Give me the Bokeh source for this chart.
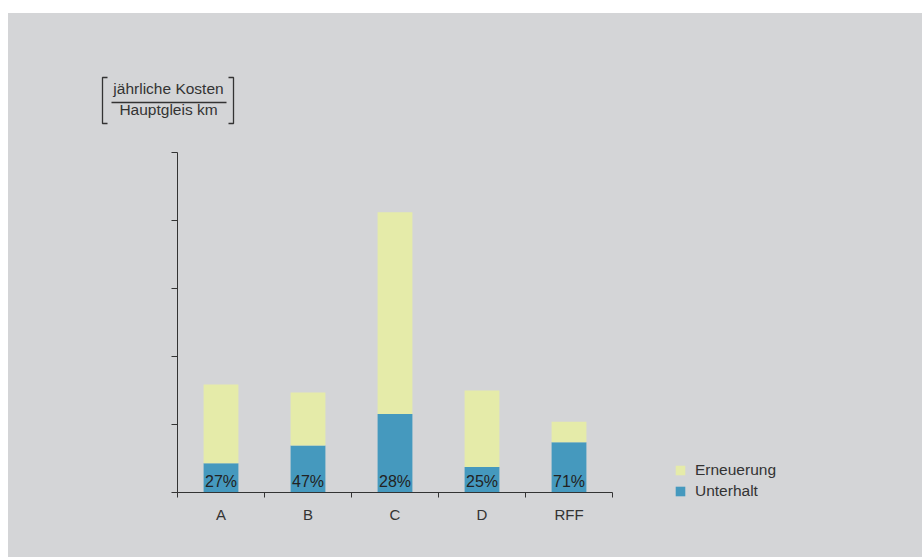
from bokeh.plotting import figure
from bokeh.models import (Range1d, FixedTicker, Label, PolyAnnotation, Legend, LegendItem,
                          ColumnDataSource)
from bokeh.embed import file_html
from bokeh.resources import INLINE
from bokeh.core.properties import value

# Annual costs per main-track km (relative units) and maintenance share
categories = ["A", "B", "C", "D", "RFF"]
total_cost = [1.59, 1.47, 4.12, 1.50, 1.04]
maintenance_pct = [27, 47, 28, 25, 71]
y_ticks = [0, 1, 2, 3, 4, 5]

x_pos = [i + 0.5 for i in range(len(categories))]
maintenance = [t * p / 100 for t, p in zip(total_cost, maintenance_pct)]
renewal = [t - m for t, m in zip(total_cost, maintenance)]
pct_labels = [f"{p}%" for p in maintenance_pct]

BG = "#d4d5d7"
YELLOW = "#e5eba9"
BLUE = "#4599be"
INK = "#333333"
FONT = "Liberation Sans"

W, H = 914, 544
# plot area spans the whole canvas; axes sit at the data origin
PX_X, PX_Y = 87.0, 68.0          # pixels per data unit
ORIGIN_X, ORIGIN_Y = 169, 65      # origin offset from canvas left / bottom
x0 = -ORIGIN_X / PX_X
y0 = -ORIGIN_Y / PX_Y

src = ColumnDataSource(dict(x=x_pos, Unterhalt=maintenance, Erneuerung=renewal,
                            lbl=pct_labels, zero=[0] * len(x_pos)))

p = figure(width=W, height=H, output_backend="svg", toolbar_location=None, title=None,
           x_range=Range1d(x0, x0 + W / PX_X), y_range=Range1d(y0, y0 + H / PX_Y),
           min_border=0, background_fill_color=BG, border_fill_color=BG,
           outline_line_color=None, margin=(13, 0, 0, 8))
p.styles = {"background-color": BG}
p.grid.visible = False

stack = p.vbar_stack(["Unterhalt", "Erneuerung"], x="x", width=0.4, source=src,
                     color=[BLUE, YELLOW], line_color=None)

p.text(x="x", y="zero", text="lbl", source=src, text_align="center", text_baseline="bottom",
       y_offset=-3, text_font=value(FONT), text_font_size="16px", text_color="#222222")

# x axis: tick marks between categories, labels at category centres
xa = p.xaxis[0]
xa.fixed_location = 0
xa.bounds = (0, len(categories))
xa.ticker = FixedTicker(ticks=x_pos, minor_ticks=list(range(len(categories) + 1)))
xa.major_label_overrides = {x: c for x, c in zip(x_pos, categories)}
xa.major_tick_line_color = None
xa.major_tick_out = 5
xa.minor_tick_out = 5
xa.minor_tick_in = 0
xa.minor_tick_line_color = INK
xa.axis_line_color = INK
xa.major_label_standoff = 8
xa.major_label_text_font = FONT
xa.major_label_text_font_size = "15px"
xa.major_label_text_color = INK

# y axis: unlabeled ticks
ya = p.yaxis[0]
ya.fixed_location = 0
ya.bounds = (y_ticks[0], y_ticks[-1])
ya.ticker = FixedTicker(ticks=y_ticks)
ya.major_label_overrides = {t: "" for t in y_ticks}
ya.major_tick_out = 6
ya.major_tick_in = 0
ya.minor_tick_line_color = None
ya.major_tick_line_color = INK
ya.axis_line_color = INK

# unit label: [ annual costs / main track km ]  (screen units from bottom-left)
for txt, yy in [("jährliche Kosten", 469), ("Hauptgleis km", 448)]:
    p.add_layout(Label(x=160, y=yy, x_units="screen", y_units="screen", text=txt,
                       text_align="center", text_baseline="alphabetic",
                       text_font=FONT, text_font_size="15.5px", text_color=INK))

def polyline(xs, ys):
    # closed polygon that retraces itself, so only the open path is visible
    xx = list(xs) + list(xs[-2:0:-1])
    yy = list(ys) + list(ys[-2:0:-1])
    p.add_layout(PolyAnnotation(xs=xx, ys=yy, xs_units="screen", ys_units="screen",
                                fill_color=None, fill_alpha=0,
                                line_color=INK, line_alpha=1, line_width=1.3))

polyline([99, 94, 94, 99], [480, 480, 434, 434])
polyline([220, 225, 225, 220], [480, 480, 434, 434])
polyline([103, 218], [455, 455])

legend = Legend(items=[LegendItem(label="Erneuerung", renderers=[stack[1]]),
                       LegendItem(label="Unterhalt", renderers=[stack[0]])],
                location=(666, 57), orientation="vertical",
                background_fill_alpha=0, border_line_color=None,
                glyph_width=12, glyph_height=12, label_height=12, spacing=3,
                padding=0, margin=0, label_standoff=9,
                label_text_font=FONT, label_text_font_size="15.5px", label_text_color=INK)
p.add_layout(legend)

open("out.html", "w").write(file_html(p, INLINE))
